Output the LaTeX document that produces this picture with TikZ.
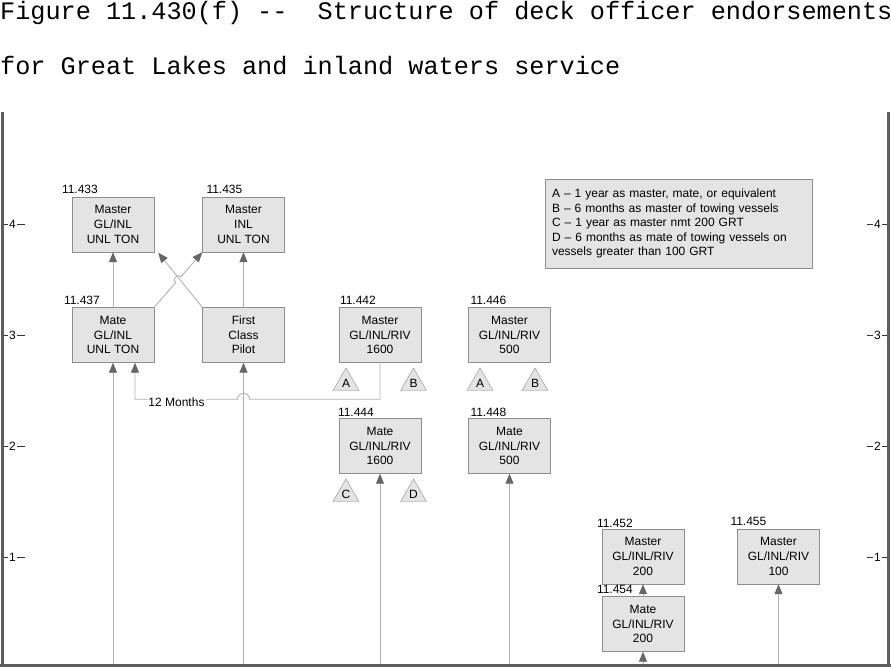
\documentclass[tikz,border=0pt]{standalone}
\usepackage{fontspec}
\setmainfont{Liberation Sans}
\newfontfamily\titlefont{Liberation Mono}
\usetikzlibrary{shapes.geometric, arrows.meta, calc, positioning}

\definecolor{boxgray}{HTML}{E4E4E4}
\definecolor{edgegray}{HTML}{8E8E8E}
\definecolor{linegray}{HTML}{B2B2B2}
\definecolor{tipgray}{HTML}{666666}
\definecolor{axisgray}{HTML}{5E5E5E}

\tikzset{
    endorse/.style={draw=edgegray, fill=boxgray, minimum width=82pt, minimum height=55pt,
        inner sep=0pt, align=center, font=\fontsize{12}{14.7}\selectfont},
    reg/.style={anchor=base west, inner sep=0pt, yshift=3pt, font=\fontsize{12}{14}\selectfont},
    req/.style={regular polygon, regular polygon sides=3, draw=edgegray, fill=boxgray,
        minimum size=30pt, inner sep=0pt, font=\fontsize{12}{12}\selectfont},
    conn/.style={draw=linegray, line width=0.9pt, -{Triangle[length=10pt, width=8pt, color=tipgray]}},
    tick/.style={inner sep=1pt, font=\fontsize{12}{12}\selectfont},
}

\begin{document}
\begin{tikzpicture}[x=1pt, y=-1pt]
        \useasboundingbox (0,0) rectangle (891,670);

        \node[anchor=base west, inner sep=0pt, font=\titlefont\fontsize{25.2}{30}\selectfont] at (0,19) (title1)
            {Figure 11.430(f) -{}-\ \ Structure of deck officer endorsements};
        \node[anchor=base west, inner sep=0pt, font=\titlefont\fontsize{25.2}{30}\selectfont] at (0,74) (title2)
            {for Great Lakes and inland waters service};

        % frame and levels
        \draw[axisgray, line width=3pt] (2.5,112) -- (2.5,665.5) (888.5,112) -- (888.5,665.5);
        \draw[axisgray, line width=3pt] (0,665.5) -- (891,665.5);
        \foreach \lv/\yy in {4/224, 3/335, 2/446, 1/557} {
            \node[tick] at (12.5,\yy) (tl\lv) {\lv};
            \node[tick] at (877.5,\yy) (tr\lv) {\lv};
            \draw[black!80, line width=0.9pt] (4,\yy) -- (tl\lv.west) (tl\lv.east) -- (25,\yy)
                (867,\yy) -- (tr\lv.west) (tr\lv.east) -- (887,\yy);
        }

        \node[endorse, label={[reg, xshift=-10pt]north west:11.433}] at (113,224.5) (m433) {Master\\GL/INL\\UNL TON};
        \node[endorse, label={[reg, xshift=4pt]north west:11.435}] at (243.5,224.5) (m435) {Master\\INL\\UNL TON};
        \node[endorse, label={[reg, xshift=-8pt]north west:11.437}] at (113,335) (m437) {Mate\\GL/INL\\UNL TON};
        \node[endorse] at (243.5,335) (pilot) {First\\Class\\Pilot};
        \node[endorse, label={[reg, xshift=1pt]north west:11.442}] at (380,335) (m442) {Master\\GL/INL/RIV\\1600};
        \node[endorse, label={[reg, xshift=2pt]north west:11.446}] at (509.5,335) (m446) {Master\\GL/INL/RIV\\500};
        \node[endorse, label={[reg, xshift=-1pt, yshift=-1pt]north west:11.444}] at (380,446) (m444) {Mate\\GL/INL/RIV\\1600};
        \node[endorse, label={[reg, xshift=2pt, yshift=-1pt]north west:11.448}] at (509.5,446) (m448) {Mate\\GL/INL/RIV\\500};
        \node[endorse, label={[reg, xshift=-5pt, yshift=-2pt]north west:11.452}] at (643,556.5) (m452) {Master\\GL/INL/RIV\\200};
        \node[endorse, label={[reg, xshift=-5pt]north west:11.454}] at (643,624) (m454) {Mate\\GL/INL/RIV\\200};
        \node[endorse, label={[reg, xshift=-7pt]north west:11.455}] at (778.5,556.5) (m455) {Master\\GL/INL/RIV\\100};

        \node[req] at (346,383) (a442) {A};
        \node[req] at (413.5,383) (b442) {B};
        \node[req] at (480,383) (a446) {A};
        \node[req] at (535,383) (b446) {B};
        \node[req] at (346,494) (c444) {C};
        \node[req] at (413.5,494) (d444) {D};

        \node[draw=edgegray, fill=boxgray, minimum width=267pt, minimum height=89pt, text width=253pt,
            inner xsep=7pt, inner ysep=0pt, align=left, font=\fontsize{12}{14.5}\selectfont] at (678.5,223.5) (legend)
            {A – 1 year as master, mate, or equivalent\\
             B – 6 months as master of towing vessels\\
             C – 1 year as master nmt 200 GRT\\
             D – 6 months as mate of towing vessels on\\
             vessels greater than 100 GRT};

        \coordinate (floor) at (0,664);

        \draw[conn] (m437.north) -- (m433.south);
        \draw[conn] (pilot.north) -- (m435.south);
        \draw[conn] (pilot.north west) -- ($(m433.south east)+(4,0.5)$);
        \draw[conn] (m437.north east) -- ($(m437.north east)!0.445!(m435.south west)$)
            arc[start angle=131.1, end angle=311.1, radius=4] -- (m435.south west);

        \draw[conn] (m442.south) -- ++(0,36.5) coordinate (elbow) -- ($(elbow -| pilot.south)+(6,0)$)
            arc[start angle=0, end angle=-180, radius=6] -| ($(m437.south)+(22,0)$);
        \node[fill=white, inner sep=1pt, font=\fontsize{12}{14}\selectfont] at (176.5,402) (months) {12 Months};

        \draw[conn] (m437.south |- floor) -- (m437.south);
        \draw[conn] (pilot.south |- floor) -- (pilot.south);
        \draw[conn] (m444.south |- floor) -- (m444.south);
        \draw[conn] (m448.south |- floor) -- (m448.south);
        \draw[conn] (m454.south |- floor) -- (m454.south);
        \draw[conn] (m455.south |- floor) -- (m455.south);
        \draw[conn] (m454.north) -- (m452.south);
\end{tikzpicture}
\end{document}
